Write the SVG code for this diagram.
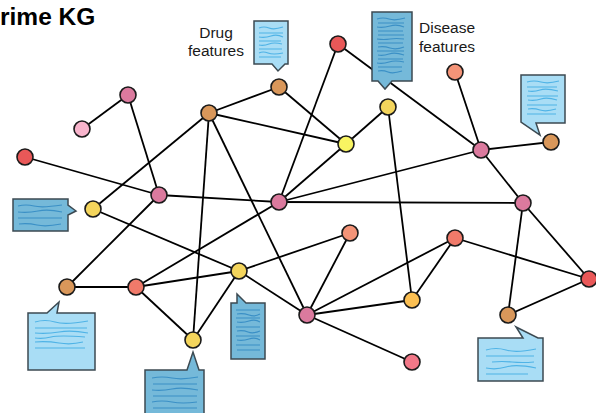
<svg xmlns="http://www.w3.org/2000/svg" width="596" height="413" viewBox="0 0 596 413">
<style>
.e{stroke:#000;stroke-width:1.8;fill:none}
.n{stroke:#1a1a1a;stroke-width:1.6}
.lt{fill:#a9ddf5;stroke:#3c4a52;stroke-width:1.5}
.dk{fill:#75b9d9;stroke:#3c4a52;stroke-width:1.5}
.lw{stroke:#4fb3e6;stroke-width:1.2;fill:none}
.dw{stroke:#3b90c6;stroke-width:1.2;fill:none}
.lbl{font-family:"Liberation Sans",Arial,sans-serif;font-size:15.5px;fill:#1a1a1a}
.ttl{font-family:"Liberation Sans",Arial,sans-serif;font-size:24.5px;font-weight:bold;fill:#000}
</style>
<rect width="596" height="413" fill="#fff"/>
<text class="ttl" x="0" y="25">rime KG</text>
<g id="edges">
<line class="e" x1="82" y1="129" x2="128" y2="95"/>
<line class="e" x1="128" y1="95" x2="159" y2="195"/>
<line class="e" x1="25" y1="157" x2="159" y2="195"/>
<line class="e" x1="159" y1="195" x2="279" y2="202"/>
<line class="e" x1="159" y1="195" x2="67" y2="287"/>
<line class="e" x1="209" y1="113" x2="93" y2="209"/>
<line class="e" x1="209" y1="113" x2="279" y2="87"/>
<line class="e" x1="209" y1="113" x2="346" y2="144"/>
<line class="e" x1="209" y1="113" x2="193" y2="340"/>
<line class="e" x1="209" y1="113" x2="307" y2="315"/>
<line class="e" x1="279" y1="87" x2="346" y2="144"/>
<line class="e" x1="338" y1="44" x2="279" y2="202"/>
<line class="e" x1="338" y1="44" x2="481" y2="150"/>
<line class="e" x1="346" y1="144" x2="388" y2="107"/>
<line class="e" x1="346" y1="144" x2="279" y2="202"/>
<line class="e" x1="388" y1="107" x2="412" y2="300"/>
<line class="e" x1="481" y1="150" x2="455" y2="72"/>
<line class="e" x1="481" y1="150" x2="551" y2="142"/>
<line class="e" x1="481" y1="150" x2="523" y2="203"/>
<line class="e" x1="481" y1="150" x2="279" y2="202"/>
<line class="e" x1="279" y1="202" x2="523" y2="203"/>
<line class="e" x1="93" y1="209" x2="239" y2="271"/>
<line class="e" x1="279" y1="202" x2="136" y2="287"/>
<line class="e" x1="67" y1="287" x2="136" y2="287"/>
<line class="e" x1="136" y1="287" x2="239" y2="271"/>
<line class="e" x1="136" y1="287" x2="193" y2="340"/>
<line class="e" x1="239" y1="271" x2="193" y2="340"/>
<line class="e" x1="239" y1="271" x2="350" y2="233"/>
<line class="e" x1="239" y1="271" x2="307" y2="315"/>
<line class="e" x1="307" y1="315" x2="350" y2="233"/>
<line class="e" x1="307" y1="315" x2="455" y2="238"/>
<line class="e" x1="307" y1="315" x2="412" y2="300"/>
<line class="e" x1="307" y1="315" x2="412" y2="362"/>
<line class="e" x1="412" y1="300" x2="455" y2="238"/>
<line class="e" x1="455" y1="238" x2="589" y2="279"/>
<line class="e" x1="523" y1="203" x2="589" y2="279"/>
<line class="e" x1="523" y1="203" x2="508" y2="315"/>
<line class="e" x1="508" y1="315" x2="589" y2="279"/>
</g>
<g id="drug-features">
<path class="lt" d="M254 21H288V64H285L278 71L272 64H254Z"/>
<path class="lw" d="M259 28q5-2 10 0t14-1M259 33h24M259 37q6 1 12-1t12 1M259 41h22M259 45q5 1 10-1t13 0M259 49h23M259 53q4-2 9 0t15 0M259 57h22"/>
<text class="lbl" x="216" y="38" text-anchor="middle">Drug</text>
<text class="lbl" x="216" y="56" text-anchor="middle">features</text>
</g>
<g id="disease-features">
<path class="dk" d="M372 12H412V81H392L385 89L378 81H372Z"/>
<path class="dw" d="M377 19q6-2 12 0t16-1M378 23h26M377 27q6 1 13-1t14 1M378 31h25M378 35h26M377 39q7 1 13 0t14 0M378 43h25M378 47q6-1 12 1t14-1M377 51h27M378 55q5 1 11-1t15 1M378 59h25M377 63q6 1 12-1t15 0M378 67h24M378 71q5-1 10 1t14-1"/>
<text class="lbl" x="419" y="33">Disease</text>
<text class="lbl" x="419" y="52">features</text>
</g>
<g id="doc-right-top">
<path class="lt" d="M521 75H565V123H536L540 135L521 122Z"/>
<path class="lw" d="M527 82q7-2 14 0t18-1M527 87h30M528 91q6 1 12-1t18 1M527 96h31M528 100q7 1 13-1t16 1M527 105h30M528 109q6-1 12 1t16-1M527 114h29"/>
</g>
<g id="doc-left">
<path class="dk" d="M13 199H68V205L76 211L68 215V231H13Z"/>
<path class="dw" d="M18 206q8-2 16 0t28-1M18 212q10 1 20-1t24 1M18 218h44M19 224q9-1 18 1t24-1"/>
</g>
<g id="doc-bottom-left">
<path class="lt" d="M28 313H47L59 302L57 313H95V370H28Z"/>
<path class="lw" d="M35 322q10-3 20 0t33-1M35 328h52M35 333q12 1 24-1t29 1M35 338q8 1 16-1t34 0M35 342q12-1 24 1t24-1M35 348h50"/>
</g>
<g id="doc-bottom">
<path class="dk" d="M145 414V370H187L193 352L199 370H204V414"/>
<path class="dw" d="M152 378q10-2 20 0t26-1M153 384h44M152 390q10 1 20-1t26 1M153 396h44M152 402q10-2 20 0t25 0M153 408h44"/>
</g>
<g id="doc-middle">
<path class="dk" d="M231 303H237V294L246 303H265V359H231Z"/>
<path class="dw" d="M236 310h24M237 314q6-1 12 1t11-1M236 318h24M237 322q6 1 12-1t11 1M236 327h24M237 331q6-1 11 1t12-1M236 336h24M237 340q6 1 12-1t11 1M236 345h24M237 350h23"/>
</g>
<g id="doc-bottom-right">
<path class="lt" d="M478 338H523L516 327L538 338H543V381H478Z"/>
<path class="lw" d="M486 350q10-3 20 0t30-1M486 356h48M492 362q10-1 20 0t22 0M486 368q10 2 20-1t30 1M486 374h42"/>
</g>
<g id="nodes">
<g id="n1"><circle class="n" cx="82" cy="129" r="8" fill="#f8b4cc"/></g>
<g id="n2"><circle class="n" cx="128" cy="95" r="8" fill="#db7a9e"/></g>
<g id="n3"><circle class="n" cx="25" cy="157" r="8" fill="#e95858"/></g>
<g id="n4"><circle class="n" cx="209" cy="113" r="8" fill="#d9975a"/></g>
<g id="n5"><circle class="n" cx="279" cy="87" r="8" fill="#d9975a"/></g>
<g id="n6"><circle class="n" cx="159" cy="195" r="8" fill="#db7a9e"/></g>
<g id="n7"><circle class="n" cx="279" cy="202" r="8" fill="#db7a9e"/></g>
<g id="n8"><circle class="n" cx="93" cy="209" r="8" fill="#f4d55c"/></g>
<g id="n9"><circle class="n" cx="338" cy="44" r="8" fill="#e95858"/></g>
<g id="n10"><circle class="n" cx="346" cy="144" r="8" fill="#f8f462"/></g>
<g id="n11"><circle class="n" cx="388" cy="107" r="8" fill="#f4d55c"/></g>
<g id="n12"><circle class="n" cx="455" cy="72" r="8" fill="#f49478"/></g>
<g id="n13"><circle class="n" cx="481" cy="150" r="8" fill="#db7a9e"/></g>
<g id="n14"><circle class="n" cx="551" cy="142" r="8" fill="#d9975a"/></g>
<g id="n15"><circle class="n" cx="523" cy="203" r="8" fill="#db7a9e"/></g>
<g id="n16"><circle class="n" cx="67" cy="287" r="8" fill="#d9975a"/></g>
<g id="n17"><circle class="n" cx="136" cy="287" r="8" fill="#f07a6a"/></g>
<g id="n18"><circle class="n" cx="239" cy="271" r="8" fill="#f4d55c"/></g>
<g id="n19"><circle class="n" cx="193" cy="340" r="8" fill="#f4d55c"/></g>
<g id="n20"><circle class="n" cx="350" cy="233" r="8" fill="#f49478"/></g>
<g id="n21"><circle class="n" cx="455" cy="238" r="8" fill="#f07a6a"/></g>
<g id="n22"><circle class="n" cx="589" cy="279" r="8" fill="#e95858"/></g>
<g id="n23"><circle class="n" cx="412" cy="300" r="8" fill="#fbbf52"/></g>
<g id="n24"><circle class="n" cx="307" cy="315" r="8" fill="#db7a9e"/></g>
<g id="n25"><circle class="n" cx="508" cy="315" r="8" fill="#d9975a"/></g>
<g id="n26"><circle class="n" cx="412" cy="362" r="8" fill="#f27888"/></g>
</g>
</svg>
